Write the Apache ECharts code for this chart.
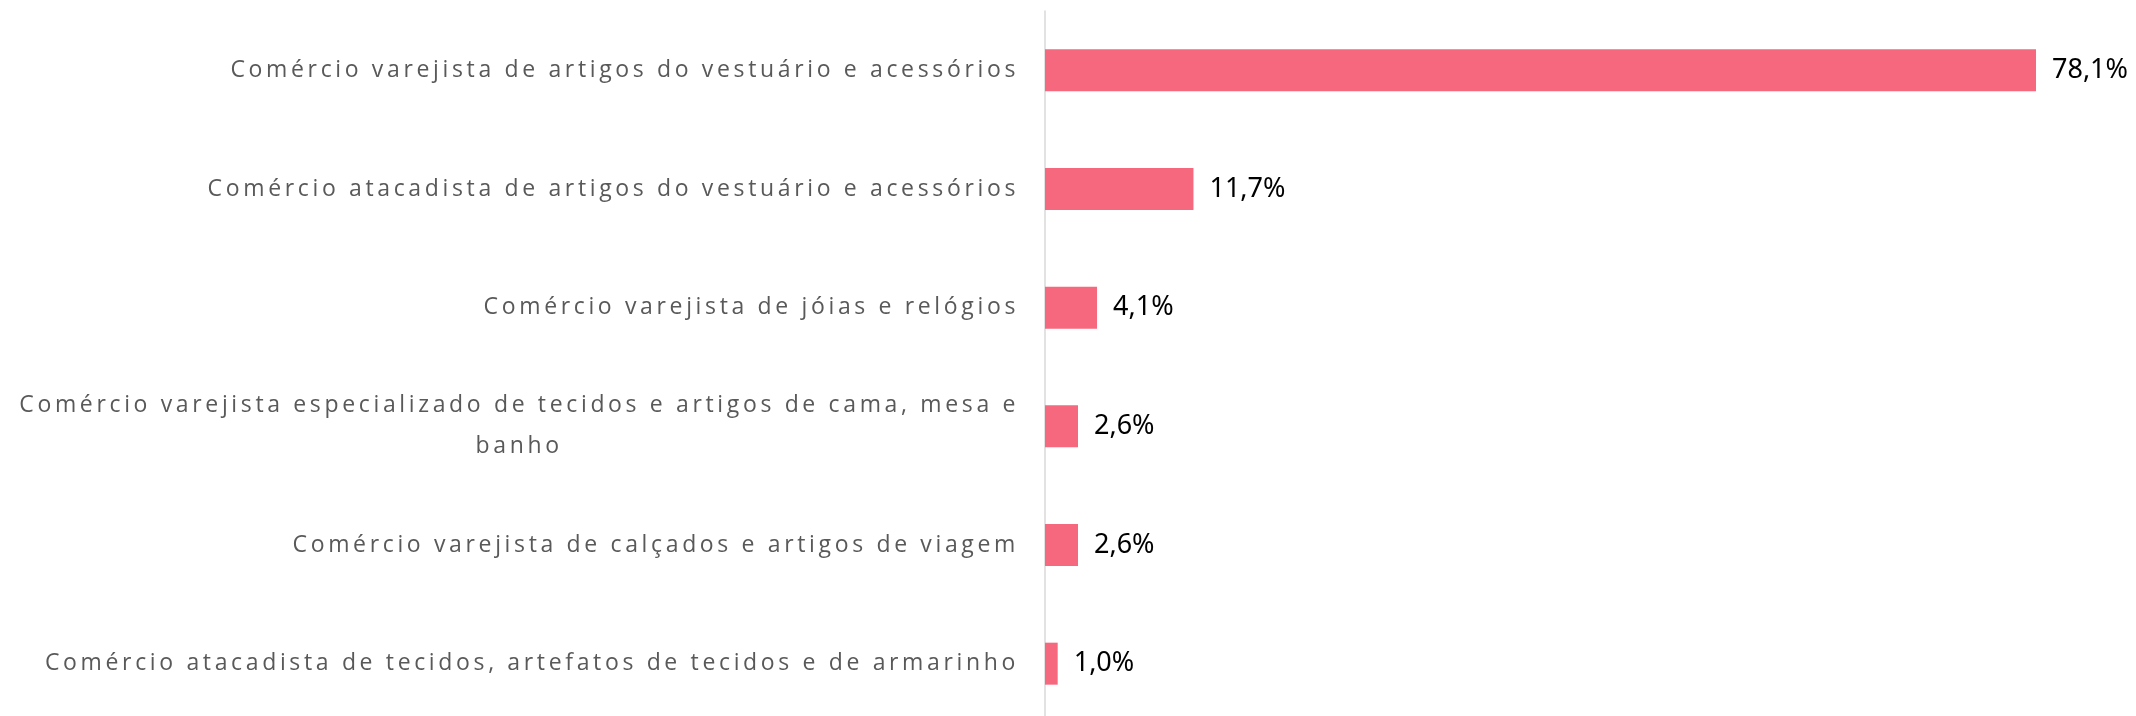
<!DOCTYPE html>
<html>
<head>
<meta charset="utf-8">
<script src="https://cdn.jsdelivr.net/npm/echarts@6/dist/echarts.min.js"></script>
<style>
    html, body { margin: 0; padding: 0; background: #fff; }
    #chart { width: 2136px; height: 716px; }
</style>
</head>
<body>
<div id="chart"></div>
<script>
    const categories = [
        'Comércio varejista de artigos do vestuário e acessórios',
        'Comércio atacadista de artigos do vestuário e acessórios',
        'Comércio varejista de jóias e relógios',
        'Comércio varejista especializado de tecidos e artigos de cama, mesa e\nbanho',
        'Comércio varejista de calçados e artigos de viagem',
        'Comércio atacadista de tecidos, artefatos de tecidos e de armarinho',
    ];
    const shares = [78.1, 11.7, 4.1, 2.6, 2.6, 1.0];

    // --- Letter spacing for the category labels (canvas only) ---
    const LABEL_FONT = 'Open Sans';
    const proto = CanvasRenderingContext2D.prototype;
    const rawFill = proto.fillText, rawMeasure = proto.measureText;
    function applySpacing(ctx) {
        ctx.letterSpacing = ctx.font.includes(LABEL_FONT) ? '3.65px' : '0px';
    }
    proto.fillText = function (...args) { applySpacing(this); return rawFill.apply(this, args); };
    proto.measureText = function (...args) { applySpacing(this); return rawMeasure.apply(this, args); };

    function labelFormatter(value) {
        const lines = value.split('\n');
        if (lines.length === 1) return value;
        return lines.map((l, i) => i === 0 ? `{first|${l}}` : `{rest|${l}}`).join('\n');
    }

    const chart = echarts.init(document.getElementById('chart'), null, { renderer: 'canvas' });
    const labelText = { fontFamily: LABEL_FONT, fontSize: 23, color: '#595959', lineHeight: 41 };

    chart.setOption({
        animation: false,
        grid: { left: 1045, right: 100, top: 11, height: 712, outerBoundsMode: 'none' },
        xAxis: {
            type: 'value', min: 0, max: 'dataMax',
            show: false,
        },
        yAxis: {
            type: 'category', inverse: true, data: categories,
            axisLine: { lineStyle: { color: '#d9d9d9', width: 1.5 } },
            axisTick: { show: false },
            axisLabel: {
                margin: 26, align: 'right',
                ...labelText,
                formatter: labelFormatter,
                rich: {
                    first: { ...labelText, align: 'right' },
                    rest: { ...labelText, align: 'center' },
                },
            },
        },
        series: [{
            type: 'bar', data: shares, barWidth: 42,
            itemStyle: { color: '#f5687e' },
            label: {
                show: true, position: 'right', distance: 16,
                fontFamily: 'Noto Sans', fontSize: 27, color: '#000',
                formatter: p => p.value.toFixed(1).replace('.', ',') + '%',
            },
        }],
    });
</script>
</body>
</html>
